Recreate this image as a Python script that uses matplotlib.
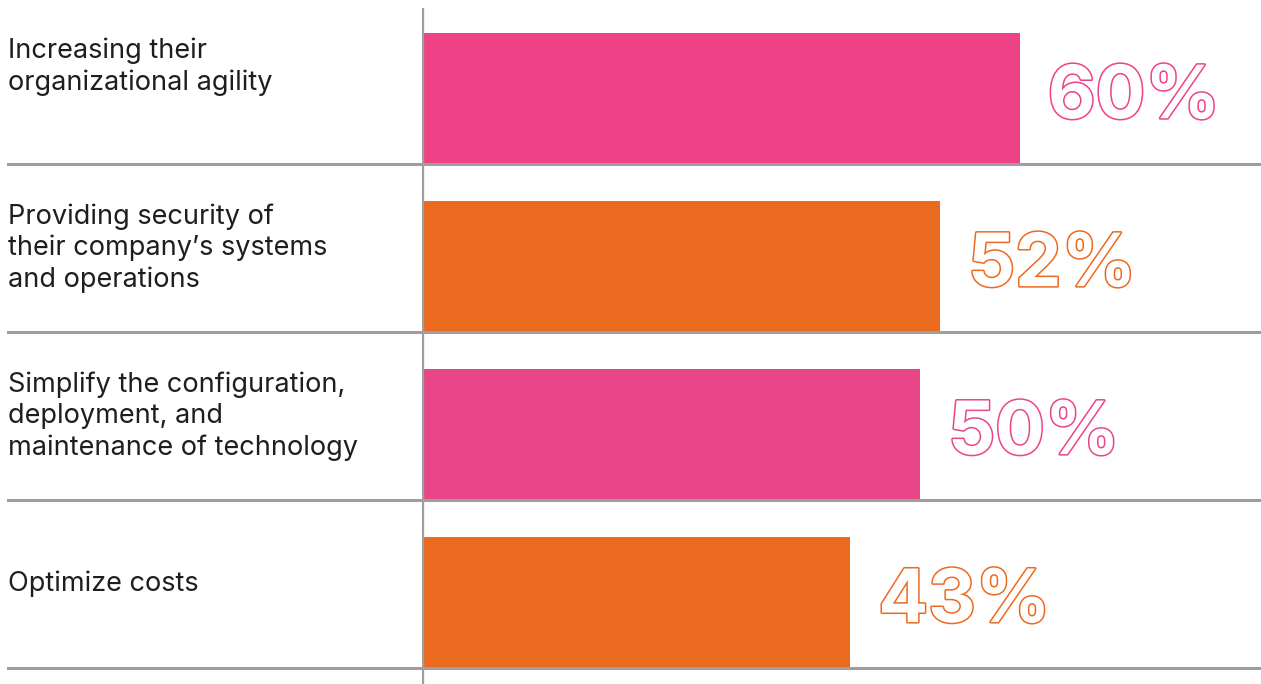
import matplotlib
matplotlib.use("Agg")
import matplotlib.pyplot as plt
import matplotlib.patheffects as pe

# Rows listed bottom to top
categories = [
    "Optimize costs",
    "Simplify the configuration,\ndeployment, and\nmaintenance of technology",
    "Providing security of\ntheir company\u2019s systems\nand operations",
    "Increasing their\norganizational agility",
]
values = [43, 50, 52, 60]
colors = ["#EC6A1F", "#E9468A", "#EC6A1F", "#EF4186"]

GRID = "#9E9E9E"
BAR_H = 0.78

plt.rcParams["font.family"] = ["Inter", "DejaVu Sans"]

fig = plt.figure(figsize=(12.61, 6.84), dpi=100)
# plot area starts at the vertical baseline; labels live to its left
ax = fig.add_axes([422 / 1261, 0, 839 / 1261, 676 / 684])
ax.set_xlim(0, 84.2)
ax.set_ylim(-0.095, 3.93)
ax.axis("off")

rows = range(len(categories))
ax.barh(rows, values, height=BAR_H, align="edge", color=colors, zorder=2)

# row separators run from the left margin across the full width
left_frac = -(422 - 8) / 839
for y in rows:
    ax.axhline(y, xmin=left_frac, xmax=1, color=GRID, lw=2.2, clip_on=False, zorder=3)
ax.axvline(0, color=GRID, lw=2.4, zorder=4)

for y, v, c, label in zip(rows, values, colors, categories):
    ax.text(v + 2.8, y + BAR_H / 2, f"{v}%", fontsize=53, fontweight="bold",
            color="white", ha="left", va="center", zorder=5,
            path_effects=[pe.Stroke(linewidth=2.2, foreground=c), pe.Normal()])
    # the top band is open above, so its label sits a little higher
    ly = y + 0.5 if y < len(categories) - 1 else y + 0.58
    ax.text(left_frac * 84.2, ly, label, fontsize=19.5, color="#1E1E1E",
            ha="left", va="center", linespacing=1.25, clip_on=False)

fig.savefig("out.png", dpi=100)
